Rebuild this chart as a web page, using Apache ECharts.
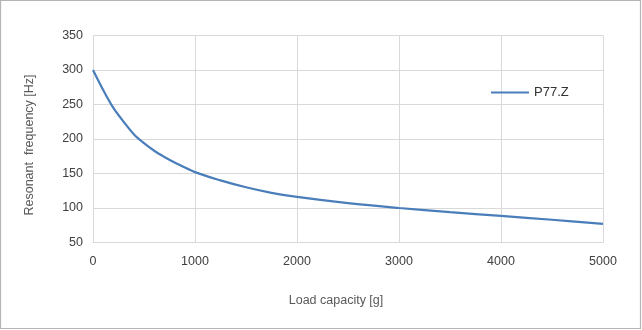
<!DOCTYPE html>
<html>
<head>
<meta charset="utf-8">
<script src="https://cdn.jsdelivr.net/npm/echarts@6/dist/echarts.min.js"></script>
<style>
html,body{margin:0;padding:0;background:#fff;}
#chart{width:642px;height:330px;}
</style>
</head>
<body>
<div id="chart"></div>
<script>
const seriesName = 'P77.Z';
const loadCapacity = [0, 100, 200, 300, 400, 500, 600, 700, 800, 1000, 1250, 1500, 1750, 2000, 2500, 3000, 3500, 4000, 4500, 5000];
const frequency = [300, 271, 245, 225, 207, 194, 183, 174, 166, 152, 140, 130, 122, 116, 107, 100, 94, 88.5, 83, 77];
const xTicks = [0, 1000, 2000, 3000, 4000, 5000];
const yTicks = [50, 100, 150, 200, 250, 300, 350];
const xTitle = 'Load capacity [g]';
const yTitle = 'Resonant  frequency [Hz]';

const points = loadCapacity.map((x, i) => [x, frequency[i]]);
const font = '"Liberation Sans", Arial, sans-serif';

const chart = echarts.init(document.getElementById('chart'), null, {renderer: 'canvas'});
chart.setOption({
  animation: false,
  backgroundColor: '#ffffff',
  grid: {left: 93, right: 39, top: 35.5, bottom: 87.5, containLabel: false},
  graphic: [{
    type: 'rect',
    shape: {x: 0.5, y: 0.5, width: 640, height: 328},
    style: {fill: 'none', stroke: '#b4b4b4', lineWidth: 1.2},
    silent: true, z: -1
  }],
  legend: {
    data: [seriesName],
    left: 486, top: 81,
    itemWidth: 38, itemHeight: 14, itemGap: 6,
    textStyle: {fontFamily: font, fontSize: 13, color: '#333333'},
    icon: 'path://M0,6 L38,6 L38,8 L0,8 Z'
  },
  xAxis: {
    type: 'value', min: xTicks[0], max: xTicks[xTicks.length-1], interval: 1000,
    name: xTitle, nameLocation: 'middle', nameGap: 52,
    nameTextStyle: {fontFamily: font, fontSize: 12.5, color: '#595959', padding: [0, 24, 0, 0]},
    axisLine: {show: true, lineStyle: {color: '#d9d9d9', width: 1}},
    axisTick: {show: false},
    axisLabel: {fontFamily: font, fontSize: 12.5, color: '#404040', margin: 13, formatter: v => String(v)},
    splitLine: {show: true, lineStyle: {color: '#d9d9d9', width: 1}}
  },
  yAxis: {
    type: 'value', min: yTicks[0], max: yTicks[yTicks.length-1], interval: 50,
    name: yTitle, nameLocation: 'middle', nameGap: 57, nameRotate: 90,
    nameTextStyle: {fontFamily: font, fontSize: 12.5, color: '#595959', padding: [0, 12, 0, 0]},
    axisLine: {show: false},
    axisTick: {show: false},
    axisLabel: {fontFamily: font, fontSize: 12.5, color: '#404040', margin: 10, formatter: v => String(v)},
    splitLine: {show: true, lineStyle: {color: '#d9d9d9', width: 1}}
  },
  series: [{
    name: seriesName,
    type: 'line',
    data: points,
    smooth: 0.35,
    symbol: 'none',
    lineStyle: {color: '#4a7ebb', width: 2.2},
    itemStyle: {color: '#4a7ebb'}
  }]
});
</script>
</body>
</html>
